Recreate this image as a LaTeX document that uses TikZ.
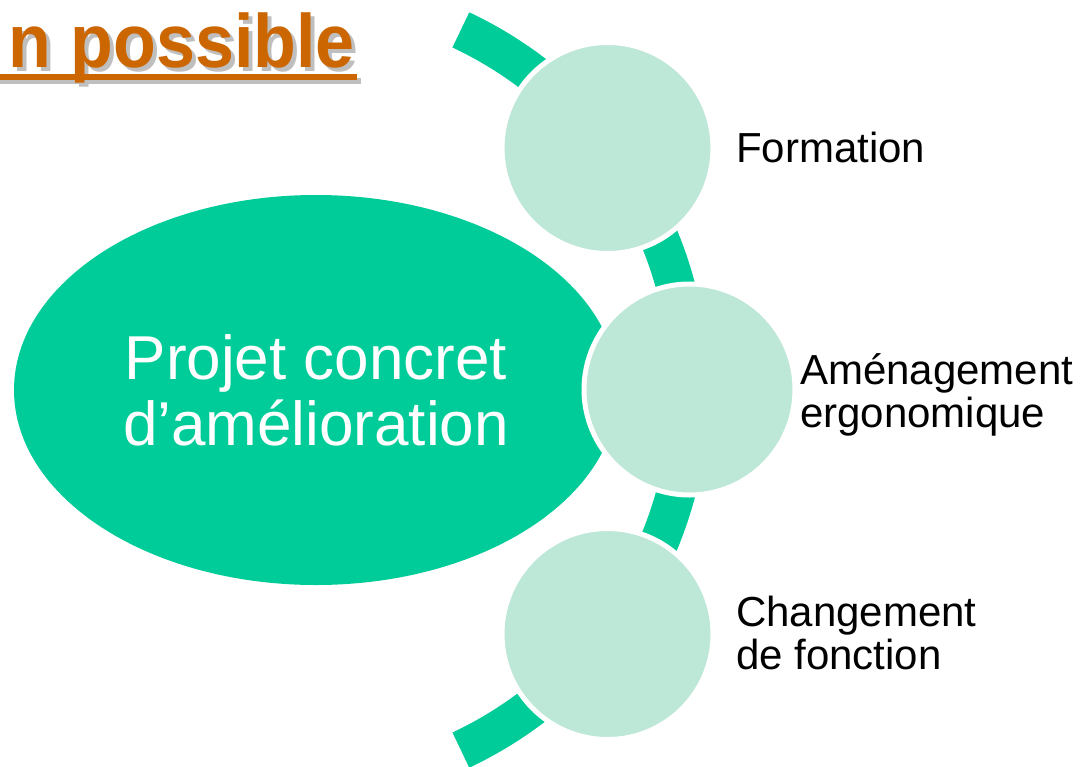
\documentclass[tikz,border=0pt]{standalone}
\usepackage{fontspec}
\setmainfont{Liberation Sans}
\usetikzlibrary{shapes.geometric}

\definecolor{seagreen}{RGB}{0,204,153}
\definecolor{mintgreen}{RGB}{189,231,214}
\definecolor{rust}{RGB}{204,102,0}

\tikzset{
	stage/.style = {circle, fill = mintgreen, draw = white, line width = 5pt, minimum size = 211pt, inner sep = 0pt},
	stagelabel/.style = {anchor = base west, align = left, inner sep = 0pt, font = \fontsize{42}{43}\selectfont},
	headline/.style = {anchor = base east, inner sep = 0pt, font = \bfseries\fontsize{70}{70}\selectfont},
}

\begin{document}
\begin{tikzpicture}[x = 1pt, y = -1pt]
	 \useasboundingbox (0, 0) rectangle (1082, 766);
	 
	 % title, cut at the left edge
	 \node[headline, text = black!25] (titleshadow) at (359, 71) {\scalebox{1}[1.08]{n possible}};
	 \fill[black!25] (0, 78) rectangle (361, 84);
	 \node[headline, text = rust] (title) at (355, 67) {\scalebox{1}[1.08]{n possible}};
	 \fill[rust] (0, 74) rectangle (357, 80);
	 
	 % band behind the circles
	 \draw[seagreen, line width = 39pt] (291.4, 390) ++(-64.8:398) arc (-64.8:64.8:398);
	 
	 \node[ellipse, fill = seagreen, minimum width = 604pt, minimum height = 390pt, inner sep = 0pt, text = white, align = center, font = \fontsize{62}{66}\selectfont] (project) at (316, 390) {Projet concret\\d’amélioration};
	 
	 \node[stage] (formation) at (607.5, 148) {};
	 \node[stage] (amenagement) at (689.5, 389.5) {};
	 \node[stage] (changement) at (607.5, 634) {};
	 
	 \node[stagelabel] (formationtext) at (736, 162) {Formation};
	 \node[stagelabel] (amenagementtext) at (800, 427) {Aménagement\\ergonomique};
	 \node[stagelabel] (changementtext) at (736, 669) {Changement\\de fonction};
\end{tikzpicture}
\end{document}
